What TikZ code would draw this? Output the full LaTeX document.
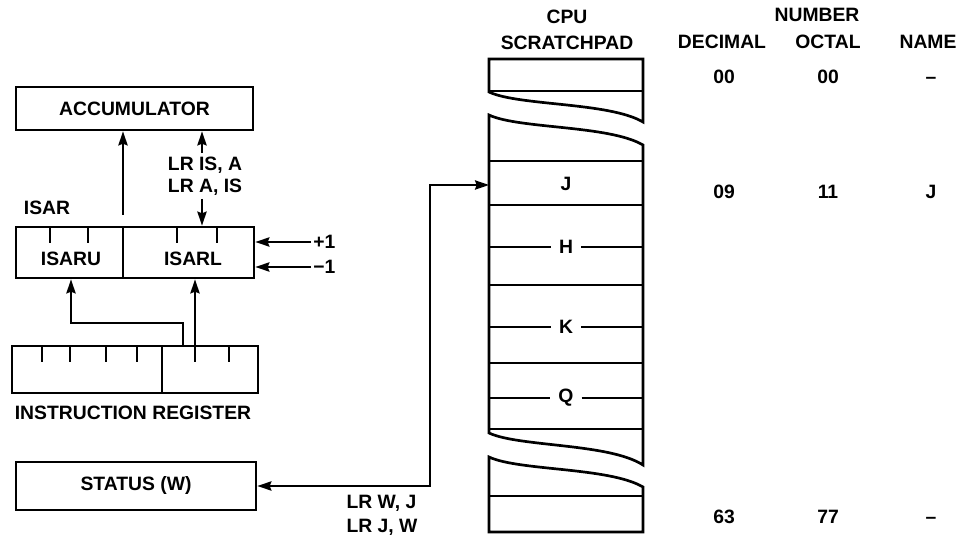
\documentclass[tikz,border=0pt]{standalone}
\usepackage{fontspec}
\setmainfont{Liberation Sans}
\usepackage{tikz}
\usetikzlibrary{positioning,calc,arrows.meta}
\tikzset{
  reg/.style      = {draw=black, line width=2.4pt, inner sep=0pt},
  lbl/.style      = {font=\fontsize{16.5}{20}\selectfont\bfseries, inner sep=0pt},
  tick/.style     = {draw=black, line width=1.6pt},
  wire/.style     = {draw=black, line width=1.4pt},
  arrowto/.style  = {-{Stealth[length=12pt,width=8pt,inset=1.5pt]}, wire},
  arrowboth/.style= {{Stealth[length=12pt,width=8pt,inset=1.5pt]}-{Stealth[length=12pt,width=8pt,inset=1.5pt]}, wire},
  padedge/.style  = {draw=black, line width=2.3pt, line join=miter},
  padrow/.style   = {draw=black, line width=1.1pt},
}

\begin{document}
\begin{tikzpicture}[x=0.03cm,y=-0.03cm]
  \useasboundingbox (0,0) rectangle (967,540);

  % ----- accumulator and isar -----
  \node[reg, lbl, minimum width=7.11cm, minimum height=1.29cm] (acc) at (134.5,108.5) {ACCUMULATOR};
  \node[lbl] (isarname) at (47,208) {ISAR};
  \node[reg, minimum width=7.14cm, minimum height=1.53cm] (isar) at (135,252.5) {};
  \draw[tick] (123,227) -- (123,278);
  \foreach \x in {50,88,177,217} {
    \draw[tick] (\x,227) -- (\x,243);
  }
  \node[lbl] (isaru) at (71,259) {ISARU};
  \node[lbl] (isarl) at (193,259) {ISARL};

  \coordinate (isarout) at (123,215);
  \draw[arrowto] (isarout) -- (isarout |- acc.south);

  \node[lbl, align=center, font=\fontsize{16.5}{19}\selectfont\bfseries, outer sep=3pt] (lrisa) at (205,176) {LR IS, A\\LR A, IS};
  \coordinate (lrx) at (202,0);
  \draw[arrowto] (lrisa.north -| lrx) -- (acc.south -| lrx);
  \draw[arrowto] (lrisa.south -| lrx) -- (isar.north -| lrx);

  \node[lbl, anchor=west, outer sep=2pt] (inc) at (311,242) {+1};
  \node[lbl, anchor=west, outer sep=2pt] (dec) at (311,267) {−1};
  \draw[arrowto] (inc.west) -- (inc.west -| isar.east);
  \draw[arrowto] (dec.west) -- (dec.west -| isar.east);

  % ----- instruction register -----
  \node[reg, minimum width=7.38cm, minimum height=1.41cm] (ir) at (135,369.5) {};
  \draw[tick] (162,346) -- (162,393);
  \foreach \x in {42,70,106,137,195,229} {
    \draw[tick] (\x,346) -- (\x,362);
  }
  \node[lbl] (irname) at (133,413) {INSTRUCTION REGISTER};
  \coordinate (irhi) at (183,346);
  \coordinate (irlo) at (195,346);
  \draw[arrowto] (irhi) -- ++(0,-23) -| (isaru |- isar.south);
  \draw[arrowto] (irlo) -- (irlo |- isar.south);

  % ----- status -----
  \node[reg, lbl, minimum width=7.2cm, minimum height=1.44cm] (status) at (136,486) {STATUS (W)};

  % ----- scratchpad -----
  \node[lbl] (cpu) at (567,17) {CPU};
  \node[lbl] (scratch) at (567,43) {SCRATCHPAD};
  \coordinate (padl) at (489,0);
  \coordinate (padr) at (643,0);

  \draw[padedge] (489,92) .. controls (519,106) and (609,102) .. (643,122) -- (643,59) -- (489,59) -- cycle;
  \draw[padedge] (489,115) .. controls (519,129) and (609,125) .. (643,145) -- (643,465)
    .. controls (609,443) and (519,447) .. (489,433) -- cycle;
  \draw[padedge] (489,457) .. controls (519,471) and (609,467) .. (643,487) -- (643,532) -- (489,532) -- cycle;
  \foreach \y in {91,161,205,285,363,429,496} {
    \draw[padrow] (489,\y) -- (643,\y);
  }

  \node[lbl] (rowj) at (566,184) {J};
  \foreach \n/\y in {H/247,K/327,Q/398} {
    \node[lbl, outer sep=7pt] (row\n) at (566,\y) {\n};
    \draw[padrow] (padl |- row\n.west) -- (row\n.west);
    \draw[padrow] (row\n.east) -- (padr |- row\n.east);
  }

  \coordinate (jin) at (489,185);
  \coordinate (jbus) at (430,0);
  \draw[arrowboth] (status.east) -- (status.east -| jbus) |- (jin);
  \node[lbl, align=left, font=\fontsize{16.5}{20.5}\selectfont\bfseries] (lrwj) at (382,515) {LR W, J\\LR J, W};

  % ----- numbers -----
  \node[lbl] (number) at (817,15) {NUMBER};
  \node[lbl] (decimal) at (722,42) {DECIMAL};
  \node[lbl] (octal) at (828,42) {OCTAL};
  \node[lbl] (name) at (928,42) {NAME};
  \foreach \d/\o/\m/\y [count=\i] in {00/00/–/77, 09/11/J/192, 63/77/–/517} {
    \node[lbl] (dec\i) at (724,\y) {\d};
    \node[lbl] (oct\i) at (828,\y) {\o};
    \node[lbl] (nam\i) at (931,\y) {\vphantom{0}\m};
  }
\end{tikzpicture}
\end{document}
